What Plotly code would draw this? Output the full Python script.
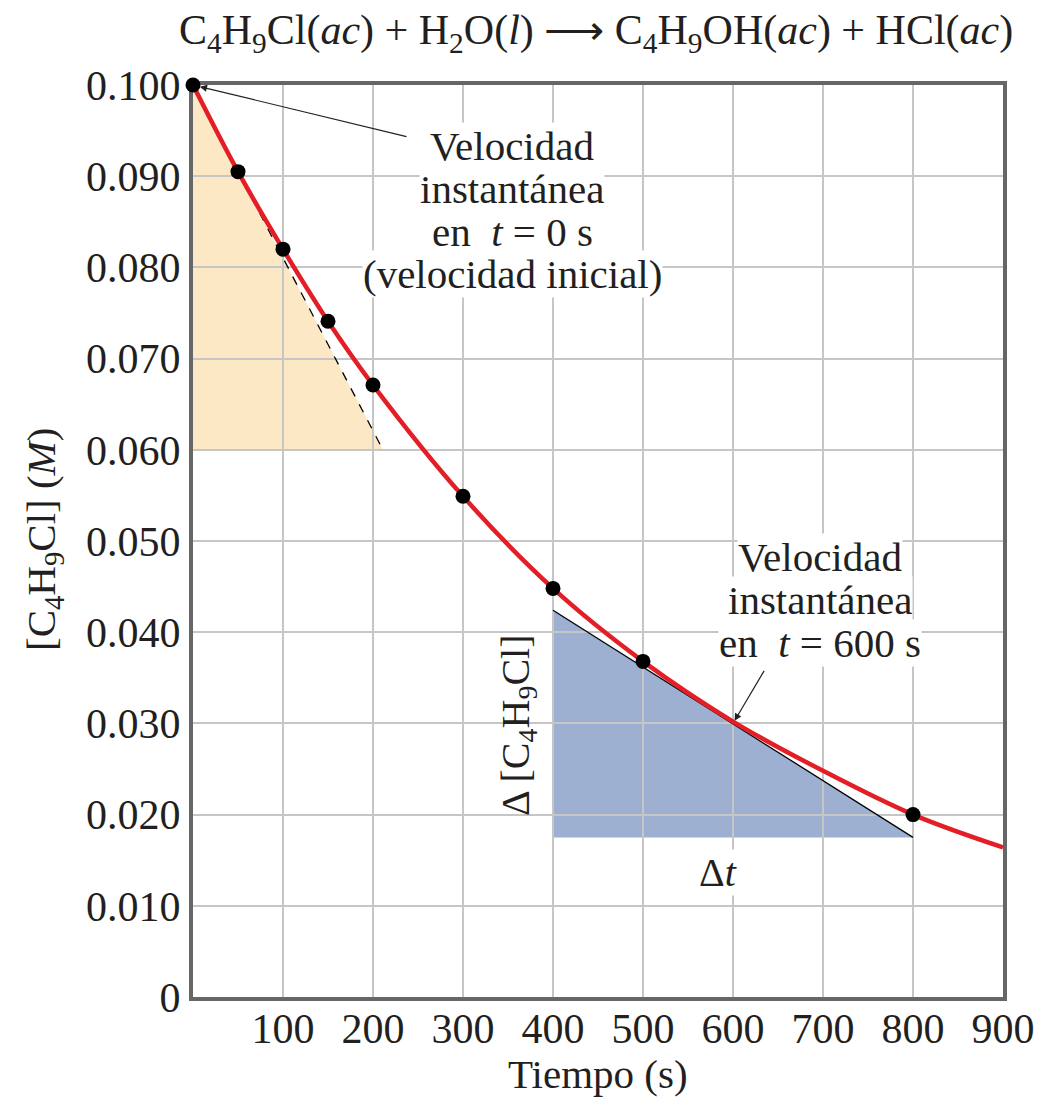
import plotly.graph_objects as go

# ---- data ----
time_s = [0, 50, 100, 150, 200, 300, 400, 500, 800]
conc_M = [0.1000, 0.0905, 0.0820, 0.0741, 0.0671, 0.0549, 0.0448, 0.0368, 0.0200]

curve_t = [0, 50, 100, 150, 200, 300, 400, 500, 600, 700, 800, 900]
curve_c = [0.1000, 0.0905, 0.0820, 0.0741, 0.0671, 0.0549, 0.0448, 0.0368, 0.0302, 0.0248, 0.0200, 0.0164]

tan0_t = [0, 211]
tan0_c = [0.1000, 0.0600]
tan600_t = [400, 800]
tan600_c = [0.0424, 0.0175]
touch600 = (600, 0.0300)

x_ticks = [100, 200, 300, 400, 500, 600, 700, 800, 900]
y_ticks = [0, 0.010, 0.020, 0.030, 0.040, 0.050, 0.060, 0.070, 0.080, 0.090, 0.100]
y_ticktext = ["0", "0.010", "0.020", "0.030", "0.040", "0.050", "0.060", "0.070", "0.080", "0.090", "0.100"]

FONT = "Liberation Serif"
TXT = "#231f20"
ORANGE = "#fde8c5"
BLUE = "#9db0d1"
RED = "#e31e26"

# page has an 8px body margin; compensate so the plot area lands at page 193..1003 x 85..997
OFF = 8
W, H = 1048 - OFF, 1097 - OFF
L, T = 193 - OFF, 85 - OFF
PW, PH = 810, 912
R, B = W - L - PW, H - T - PH

def px(xp):
    return (xp - OFF - L) / PW

def py(yp):
    return (T + PH - (yp - OFF)) / PH

fig = go.Figure()

def tri_path(xs, ys):
    return "M {},{} L {},{} L {},{} Z".format(xs[0], ys[0], xs[1], ys[1], xs[2], ys[2])

shapes = [
    dict(type="path", xref="x", yref="y", layer="below", line=dict(width=0),
         fillcolor=ORANGE,
         path=tri_path([tan0_t[0], tan0_t[1], tan0_t[0]], [tan0_c[0], tan0_c[1], tan0_c[1]])),
    dict(type="path", xref="x", yref="y", layer="below", line=dict(width=0),
         fillcolor=BLUE,
         path=tri_path([tan600_t[0], tan600_t[1], tan600_t[0]], [tan600_c[0], tan600_c[1], tan600_c[1]])),
]

fig.add_trace(go.Scatter(x=tan0_t, y=tan0_c, mode="lines",
                         line=dict(color="black", width=1.3, dash="dash"),
                         hoverinfo="skip", showlegend=False))
fig.add_trace(go.Scatter(x=tan600_t, y=tan600_c, mode="lines",
                         line=dict(color="black", width=1.3),
                         hoverinfo="skip", showlegend=False))
fig.add_trace(go.Scatter(x=curve_t, y=curve_c, mode="lines",
                         line=dict(color=RED, width=4.5, shape="spline", smoothing=1.0),
                         hoverinfo="skip", showlegend=False))
fig.add_trace(go.Scatter(x=time_s, y=conc_M, mode="markers",
                         marker=dict(color="black", size=15),
                         showlegend=False, cliponaxis=False))

annotations = []
lines1 = ["Velocidad", "instantánea", "en  <i>t</i> = 0 s", "(velocidad inicial)"]
y1 = [146, 189, 232, 274]
for txt, yp in zip(lines1, y1):
    annotations.append(dict(text=txt, xref="paper", yref="paper", x=px(512), y=py(yp),
                            xanchor="center", yanchor="middle", showarrow=False,
                            bgcolor="white", borderpad=0,
                            font=dict(family=FONT, size=41, color=TXT)))
lines2 = ["Velocidad", "instantánea", "en  <i>t</i> = 600 s"]
y2 = [557, 600, 643]
for txt, yp in zip(lines2, y2):
    annotations.append(dict(text=txt, xref="paper", yref="paper", x=px(820), y=py(yp),
                            xanchor="center", yanchor="middle", showarrow=False,
                            bgcolor="white", borderpad=0,
                            font=dict(family=FONT, size=41, color=TXT)))
annotations.append(dict(x=tan0_t[0], y=tan0_c[0], xref="x", yref="y", text="",
                        showarrow=True, arrowhead=2, arrowsize=1.2, arrowwidth=1.2,
                        arrowcolor="#222", ax=215, ay=52, standoff=7))
annotations.append(dict(x=touch600[0], y=touch600[1], xref="x", yref="y", text="",
                        showarrow=True, arrowhead=2, arrowsize=1.2, arrowwidth=1.2,
                        arrowcolor="#222", ax=32, ay=-54, standoff=3))
annotations.append(dict(text="Δ [C<sub>4</sub>H<sub>9</sub>Cl]", xref="paper", yref="paper",
                        x=px(518), y=py(725), textangle=-90,
                        xanchor="center", yanchor="middle", showarrow=False,
                        font=dict(family=FONT, size=40, color=TXT)))
annotations.append(dict(text="Δ<i>t</i>", xref="paper", yref="paper",
                        x=px(718), y=py(872), bgcolor="white", borderpad=0,
                        xanchor="center", yanchor="middle", showarrow=False,
                        font=dict(family=FONT, size=40, color=TXT)))
annotations.append(dict(text="C<sub>4</sub>H<sub>9</sub>Cl(<i>ac</i>) + H<sub>2</sub>O(<i>l</i>) ⟶ "
                             "C<sub>4</sub>H<sub>9</sub>OH(<i>ac</i>) + HCl(<i>ac</i>)",
                        xref="paper", yref="paper", x=px(596), y=py(33),
                        xanchor="center", yanchor="middle", showarrow=False,
                        font=dict(family=FONT, size=42, color=TXT)))
annotations.append(dict(text="Tiempo (s)", xref="paper", yref="paper", x=px(598), y=py(1074),
                        xanchor="center", yanchor="middle", showarrow=False,
                        font=dict(family=FONT, size=41, color=TXT)))
annotations.append(dict(text="[C<sub>4</sub>H<sub>9</sub>Cl] (<i>M</i>)", xref="paper", yref="paper",
                        x=px(44), y=py(540), textangle=-90,
                        xanchor="center", yanchor="middle", showarrow=False,
                        font=dict(family=FONT, size=41, color=TXT)))

fig.update_layout(
    width=W, height=H,
    margin=dict(l=L, r=R, t=T, b=B),
    paper_bgcolor="white", plot_bgcolor="white",
    shapes=shapes, annotations=annotations,
    font=dict(family=FONT, color=TXT),
)
fig.update_xaxes(range=[0, 900], tickvals=x_ticks, ticks="", showgrid=True, automargin=False,
                 gridcolor="#c6c6c6", gridwidth=1.5, zeroline=False, layer="below traces",
                 showline=True, mirror=True, linecolor="#666666", linewidth=4,
                 tickfont=dict(family=FONT, size=42, color=TXT), ticklabelstandoff=-8)
fig.update_yaxes(range=[0, 0.100], tickvals=y_ticks, ticktext=y_ticktext, ticks="", automargin=False,
                 showgrid=True, gridcolor="#c6c6c6", gridwidth=1.5, zeroline=False, layer="below traces",
                 showline=True, mirror=True, linecolor="#666666", linewidth=4,
                 tickfont=dict(family=FONT, size=42, color=TXT), ticklabelstandoff=0)

fig.write_html("out.html")
